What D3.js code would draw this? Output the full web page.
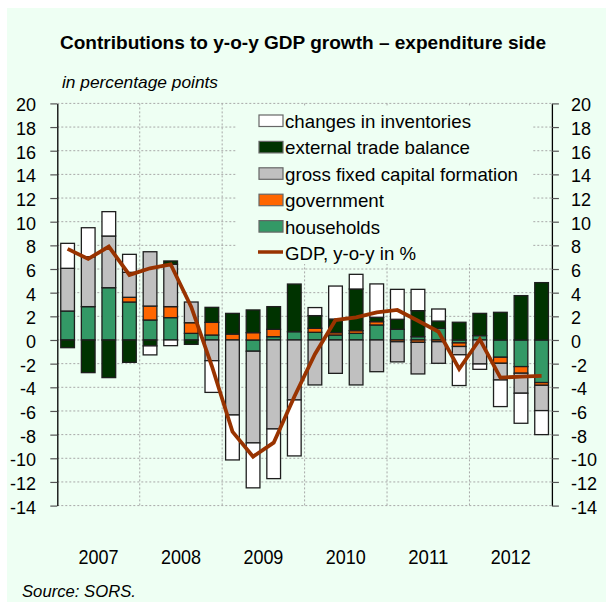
<!DOCTYPE html>
<html><head><meta charset="utf-8">
<script src="https://cdn.jsdelivr.net/npm/d3@7"></script>
<style>
html,body{margin:0;padding:0;background:#fff;}
text{font-family:"Liberation Sans",Arial,sans-serif;fill:#000;}
</style></head>
<body><svg id="chart" width="606" height="602"></svg>
<script>
const quarters = ["2007Q1","2007Q2","2007Q3","2007Q4","2008Q1","2008Q2","2008Q3","2008Q4",
  "2009Q1","2009Q2","2009Q3","2009Q4","2010Q1","2010Q2","2010Q3","2010Q4",
  "2011Q1","2011Q2","2011Q3","2011Q4","2012Q1","2012Q2","2012Q3","2012Q4"];
const years = ["2007","2008","2009","2010","2011","2012"];
const households  = [2.45,2.82,4.42,3.21, 1.69,1.89,0.56,0.42, 0.0,-0.95,0.28,0.7, 0.65,0.42,0.56,1.27, 0.9,0.28,0.99,-0.25, 0.37,-1.46,-2.25,-3.6];
const government  = [0,0,0,0.4, 1.18,0.93,0.9,1.07, 0.5,0.62,0.62,0, 0.34,0.2,0.23,0.28, -0.15,-0.2,-0.15,-0.3, 0,-0.51,-0.56,-0.23];
const gfcf        = [3.61,4.22,4.37,2.11, 4.59,3.58,1.75,-1.75, -6.34,-7.75,-7.52,-5.07, -3.8,-2.82,-3.8,-2.68, -1.7,-2.67,-1.82,-0.7, -2.03,-1.41,-1.69,-2.14];
const external    = [-0.65,-2.76,-3.18,-1.89, -0.5,0.28,-0.37,1.27, 1.75,1.92,1.92,4.03, 1.07,1.15,3.52,0.37, 0.85,2.2,0.61,1.5, 1.88,2.34,3.75,4.85];
const inventories = [2.11,2.45,2.06,1.52, -0.76,-0.48,0,-2.68, -3.8,-3.8,-4.2,-4.73, 0.68,2.79,1.24,2.82, 2.53,1.8,1.02,-2.6, -0.45,-2.25,-2.54,-2.03];
const gdp         = [7.7,6.85,7.9,5.5, 6.06,6.4,2.8,-2.2, -7.75,-9.86,-8.68,-4.8, -1.2,1.69,1.92,2.34, 2.54,1.63,0.7,-2.45, 0.06,-3.18,-3.1,-3.04];
const yTicks = d3.range(-14, 21, 2);

const keys = ["households","government","gfcf","external","inventories"];
const seriesVals = {households, government, gfcf, external, inventories};
const colors = {households:"#339966", government:"#FF6600", gfcf:"#C0C0C0", external:"#003300", inventories:"#FFFFFF"};
const legendOrder = [
  {key:"inventories", label:"changes in inventories", len:186},
  {key:"external", label:"external trade balance", len:185},
  {key:"gfcf", label:"gross fixed capital formation", len:233},
  {key:"government", label:"government", len:99},
  {key:"households", label:"households", len:95},
  {key:"gdp", label:"GDP, y-o-y in %", len:131}
];

const rows = quarters.map((q,i)=>{const r={q}; keys.forEach(k=>r[k]=seriesVals[k][i]); return r;});
const stacked = d3.stack().keys(keys).offset(d3.stackOffsetDiverging)(rows);

const svg = d3.select("#chart");
const X0 = 57.3, X1 = 551.9;
const x = d3.scaleBand().domain(quarters).range([X0, X1]).paddingInner(0.335).paddingOuter(0.1675);
const xYear = d3.scaleBand().domain(years).range([X0, X1]);
const y = d3.scaleLinear().domain([-14, 20]).range([505.6, 103.4]);
const BG = "#EEFFF3";

svg.append("rect").attr("x",7).attr("y",8).attr("width",599).attr("height",594).attr("fill",BG);

// gridlines
svg.append("g").selectAll("line").data(yTicks).join("line")
  .attr("x1",X0).attr("x2",X1).attr("y1",d=>y(d)).attr("y2",d=>y(d))
  .attr("stroke","#a8a8a8").attr("stroke-width",1).attr("stroke-dasharray","2,2");
svg.append("g").selectAll("line").data(years.slice(1)).join("line")
  .attr("x1",d=>xYear(d)).attr("x2",d=>xYear(d)).attr("y1",y(20)).attr("y2",y(-14))
  .attr("stroke","#a8a8a8").attr("stroke-width",1).attr("stroke-dasharray","2,2");

// legend background
svg.append("rect").attr("x",236).attr("y",106).attr("width",296).attr("height",158).attr("fill",BG);

// bars
const gBars = svg.append("g");
stacked.forEach(s=>{
  gBars.append("g").selectAll("rect").data(s.filter(d=>Math.abs(d[1]-d[0])>0.01)).join("rect")
    .attr("x",d=>x(d.data.q)).attr("width",x.bandwidth())
    .attr("y",d=>y(Math.max(d[0],d[1]))).attr("height",d=>Math.abs(y(d[0])-y(d[1])))
    .attr("fill",colors[s.key]).attr("stroke","#1e1e1e").attr("stroke-width",1.3);
});

// gdp line
svg.append("path").datum(gdp)
  .attr("d", d3.line().x((d,i)=>x(quarters[i])+x.bandwidth()/2).y(d=>y(d)))
  .attr("fill","none").attr("stroke","#993300").attr("stroke-width",3.8).attr("stroke-linejoin","miter");

// axes
const axL = svg.append("g").attr("transform",`translate(${X0},0)`).call(d3.axisLeft(y).tickValues(yTicks).tickSize(7).tickSizeOuter(0).tickFormat(""));
const axR = svg.append("g").attr("transform",`translate(${X1},0)`).call(d3.axisRight(y).tickValues(yTicks).tickSize(7).tickSizeOuter(0).tickFormat(""));
[axL,axR].forEach(a=>{a.select(".domain").attr("stroke","#000").attr("stroke-width",1.3); a.selectAll(".tick line").attr("stroke","#555").attr("stroke-width",1.2);});

svg.append("g").selectAll("text").data(yTicks).join("text")
  .attr("x",36).attr("y",d=>y(d)+8).attr("text-anchor","end").attr("font-size",18).text(d=>d);
svg.append("g").selectAll("text").data(yTicks).join("text")
  .attr("x",571).attr("y",d=>y(d)+8).attr("text-anchor","start").attr("font-size",18).text(d=>d);

svg.append("g").selectAll("text").data(years).join("text")
  .attr("x",d=>xYear(d)+xYear.bandwidth()/2).attr("y",564).attr("text-anchor","middle")
  .attr("font-size",21).attr("textLength",40).attr("lengthAdjust","spacingAndGlyphs").text(d=>d);

// titles
svg.append("text").attr("x",60).attr("y",49).attr("font-size",19).attr("font-weight","bold")
  .attr("textLength",486).attr("lengthAdjust","spacingAndGlyphs")
  .text("Contributions to y-o-y GDP growth – expenditure side");
svg.append("text").attr("x",62).attr("y",88).attr("font-size",17).attr("font-style","italic")
  .attr("textLength",156).attr("lengthAdjust","spacingAndGlyphs").text("in percentage points");
svg.append("text").attr("x",22).attr("y",597).attr("font-size",17).attr("font-style","italic")
  .attr("textLength",114).attr("lengthAdjust","spacingAndGlyphs").text("Source: SORS.");

// legend
const lg = svg.append("g");
legendOrder.forEach((it,i)=>{
  const by = 128 + i*26.4;
  if (it.key==="gdp") {
    lg.append("line").attr("x1",258).attr("x2",283).attr("y1",by-8).attr("y2",by-8)
      .attr("stroke","#993300").attr("stroke-width",3.5);
  } else {
    lg.append("rect").attr("x",259).attr("y",by-13).attr("width",24).attr("height",11.5)
      .attr("fill",colors[it.key]).attr("stroke","#666").attr("stroke-width",1.2);
  }
  lg.append("text").attr("x",285).attr("y",by).attr("font-size",19)
    .attr("textLength",it.len).attr("lengthAdjust","spacingAndGlyphs").text(it.label);
});
</script></body></html>
